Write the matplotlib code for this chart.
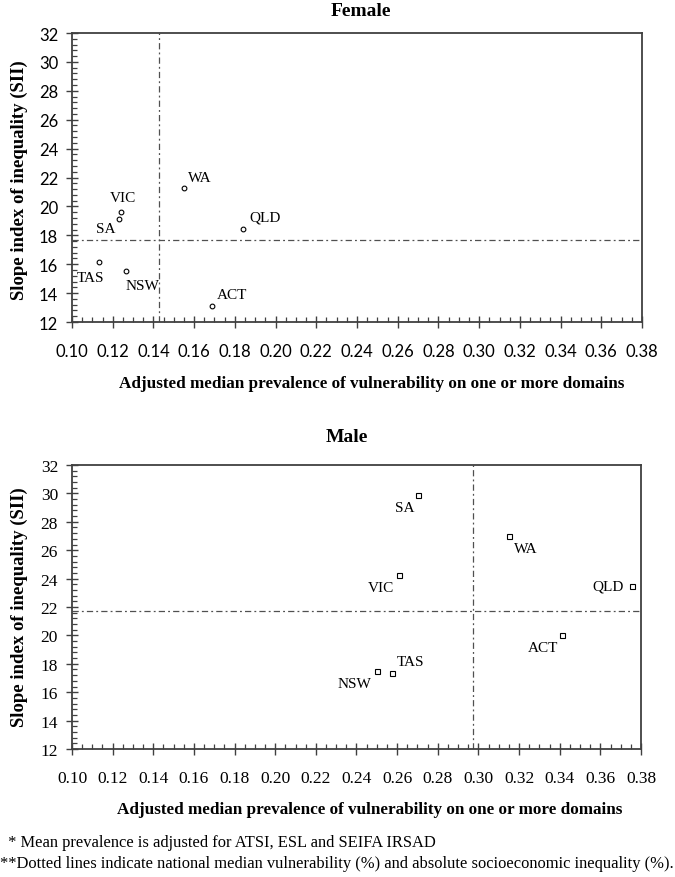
import matplotlib
matplotlib.use("Agg")
import matplotlib.pyplot as plt
from matplotlib.ticker import MultipleLocator, FormatStrFormatter

# ---------------- data ----------------
female_states = ["WA", "QLD", "ACT", "VIC", "SA", "TAS", "NSW"]
female_x = [0.155, 0.184, 0.169, 0.124, 0.123, 0.1133, 0.1265]
female_y = [21.27, 18.44, 13.1, 19.6, 19.15, 16.13, 15.53]
female_ref_x = 0.1427
female_ref_y = 17.65

male_states = ["SA", "WA", "VIC", "QLD", "ACT", "TAS", "NSW"]
male_x = [0.2703, 0.315, 0.261, 0.3755, 0.341, 0.2574, 0.250]
male_y = [29.9, 27.03, 24.28, 23.47, 20.05, 17.33, 17.52]
male_ref_x = 0.2975
male_ref_y = 21.75

x_limits = (0.10, 0.38)
y_limits = (12, 32)

# label placement (offset pixels, ha, va)
female_label_pos = {
    "WA": ((4, 4), "left", "bottom"),
    "QLD": ((6, 5), "left", "bottom"),
    "ACT": ((4, 5), "left", "bottom"),
    "VIC": ((2, 8), "center", "bottom"),
    "SA": ((-3, -3), "right", "top"),
    "TAS": ((5, -9), "right", "top"),
    "NSW": ((0, -8), "left", "top"),
}
male_label_pos = {
    "SA": ((-4, -6), "right", "top"),
    "WA": ((5, -6), "left", "top"),
    "VIC": ((-5, -6), "right", "top"),
    "QLD": ((-8, 0), "right", "center"),
    "ACT": ((-4, -6), "right", "top"),
    "TAS": ((5, 5), "left", "bottom"),
    "NSW": ((-5, -6), "right", "top"),
}

W, H = 675, 878
fig = plt.figure(figsize=(W / 100, H / 100), dpi=100)

SERIF = ["Liberation Serif", "DejaVu Serif"]
SANS = ["Lato", "Liberation Sans", "DejaVu Sans"]
spine_col = "#404040"
ref_style = dict(color="#505050", linewidth=0.9, linestyle=(0, (5, 2.5, 1.5, 2.5)))


def px_box(left, top, right, bottom):
    return [left / W, 1 - bottom / H, (right - left) / W, (bottom - top) / H]


def setup_axes(ax, tickfont, ticksize):
    ax.set_xlim(*x_limits)
    ax.set_ylim(*y_limits)
    ax.xaxis.set_major_locator(MultipleLocator(0.02))
    ax.xaxis.set_minor_locator(MultipleLocator(0.005))
    ax.yaxis.set_major_locator(MultipleLocator(2))
    ax.yaxis.set_minor_locator(MultipleLocator(0.4))
    ax.xaxis.set_major_formatter(FormatStrFormatter("%.2f"))
    ax.yaxis.set_major_formatter(FormatStrFormatter("%d"))
    ax.tick_params(which="major", direction="inout", length=8, width=1.0,
                   color=spine_col)
    ax.tick_params(axis="x", which="major", pad=11)
    ax.tick_params(axis="y", which="major", pad=6)
    ax.tick_params(which="minor", direction="in", length=3.5, width=0.9,
                   color=spine_col)
    for lab in ax.get_xticklabels() + ax.get_yticklabels():
        lab.set_family(tickfont)
        lab.set_fontsize(ticksize)
    for s in ax.spines.values():
        s.set_color(spine_col)
        s.set_linewidth(1.3)


def plot_panel(ax, xs, ys, states, pos, marker, msize, refx, refy):
    ax.axvline(refx, **ref_style, zorder=1)
    ax.axhline(refy, **ref_style, zorder=1)
    ax.plot(xs, ys, linestyle="none", marker=marker, markersize=msize,
            markerfacecolor="white", markeredgecolor="black",
            markeredgewidth=0.8, zorder=3)
    for s, x, y in zip(states, xs, ys):
        off, ha, va = pos[s]
        ax.annotate(s, (x, y), xytext=off, textcoords="offset pixels",
                    ha=ha, va=va, fontsize=11, family=SERIF)


# ---- Female ----
ax1 = fig.add_axes(px_box(72, 34, 642, 323))
plot_panel(ax1, female_x, female_y, female_states, female_label_pos, "o", 3.4,
           female_ref_x, female_ref_y)
setup_axes(ax1, SANS, 12)

# ---- Male ----
ax2 = fig.add_axes(px_box(72, 466, 641, 750))
plot_panel(ax2, male_x, male_y, male_states, male_label_pos, "s", 3.6,
           male_ref_x, male_ref_y)
setup_axes(ax2, SERIF, 12.5)

# titles
fig.text(361 / W, 1 - 11 / H, "Female", ha="center", va="center",
         fontsize=14, fontweight="bold", family=SERIF)
fig.text(347 / W, 1 - 438 / H, "Male", ha="center", va="center",
         fontsize=14, fontweight="bold", family=SERIF)

# axis labels
xlabel = "Adjusted median prevalence of vulnerability on one or more domains"
ylabel = "Slope index of inequality (SII)"
fig.text(372 / W, 1 - 384 / H, xlabel, ha="center", va="center",
         fontsize=12.3, fontweight="bold", family=SERIF)
fig.text(370 / W, 1 - 810 / H, xlabel, ha="center", va="center",
         fontsize=12.3, fontweight="bold", family=SERIF)
fig.text(19 / W, 1 - 180 / H, ylabel, ha="center", va="center", rotation=90,
         fontsize=13.5, fontweight="bold", family=SERIF)
fig.text(19 / W, 1 - 607 / H, ylabel, ha="center", va="center", rotation=90,
         fontsize=13.5, fontweight="bold", family=SERIF)

# footnotes
fig.text(4 / W, 1 - 843 / H, " * Mean prevalence is adjusted for ATSI, ESL and SEIFA IRSAD",
         ha="left", va="center", fontsize=11.9, family=SERIF)
fig.text(0 / W, 1 - 864 / H,
         "**Dotted lines indicate national median vulnerability (%) and absolute socioeconomic inequality (%).",
         ha="left", va="center", fontsize=11.9, family=SERIF)

fig.savefig("out.png", dpi=100)
